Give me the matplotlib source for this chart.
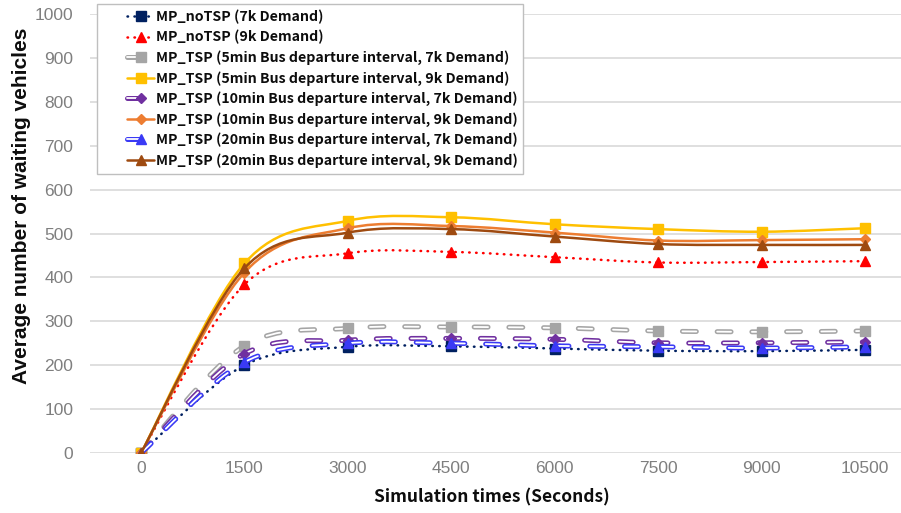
import matplotlib
matplotlib.use('Agg')
import matplotlib.pyplot as plt
import matplotlib.patheffects as pe
from matplotlib.path import Path
from matplotlib.patches import PathPatch
from matplotlib.lines import Line2D
from matplotlib.legend_handler import HandlerTuple
import numpy as np

plt.rcParams['lines.scale_dashes'] = False

times = [0, 1500, 3000, 4500, 6000, 7500, 9000, 10500]

notsp_7k = [0, 200, 242, 243, 238, 233, 232, 235]
notsp_9k = [0, 384, 455, 458, 446, 434, 435, 437]
tsp5_7k = [0, 244, 284, 287, 285, 278, 276, 278]
tsp5_9k = [0, 432, 529, 537, 521, 510, 504, 512]
tsp10_7k = [0, 226, 257, 261, 259, 251, 251, 253]
tsp10_9k = [0, 411, 512, 517, 502, 484, 485, 487]
tsp20_7k = [0, 207, 250, 250, 244, 242, 239, 242]
tsp20_9k = [0, 421, 502, 510, 493, 476, 474, 474]

series_names = [
    'MP_noTSP (7k Demand)',
    'MP_noTSP (9k Demand)',
    'MP_TSP (5min Bus departure interval, 7k Demand)',
    'MP_TSP (5min Bus departure interval, 9k Demand)',
    'MP_TSP (10min Bus departure interval, 7k Demand)',
    'MP_TSP (10min Bus departure interval, 9k Demand)',
    'MP_TSP (20min Bus departure interval, 7k Demand)',
    'MP_TSP (20min Bus departure interval, 9k Demand)',
]
series_vals = [notsp_7k, notsp_9k, tsp5_7k, tsp5_9k, tsp10_7k, tsp10_9k, tsp20_7k, tsp20_9k]

# (color, line kind, marker, marker size)
styles = [
    ('#002060', 'dot', 's', 6.5),
    ('#FF0000', 'dot', '^', 7.5),
    ('#A5A5A5', 'double', 's', 6.5),
    ('#FFC000', 'solid', 's', 7),
    ('#7030A0', 'double', 'D', 5.5),
    ('#ED7D31', 'solid', 'D', 5.5),
    ('#3A3AF5', 'double', '^', 7.5),
    ('#9E4A10', 'solid', '^', 7.5),
]


def smooth_path(x, y):
    # bezier through the points, excel-style smoothed line
    pts = np.column_stack([x, y]).astype(float)
    n = len(pts)
    verts = [pts[0]]
    codes = [Path.MOVETO]
    for i in range(n - 1):
        p0 = pts[max(i - 1, 0)]
        p1 = pts[i]
        p2 = pts[i + 1]
        p3 = pts[min(i + 2, n - 1)]
        verts += [p1 + (p2 - p0) / 6.0, p2 - (p3 - p1) / 6.0, p2]
        codes += [Path.CURVE4] * 3
    return Path(verts, codes)


def line_kw(color, kind):
    if kind == 'dot':
        return dict(color=color, lw=1.8, ls=(0, (0.4, 4.6)), capstyle='round')
    if kind == 'double':
        return dict(color='white', lw=1.3, ls=(0, (10, 15)), capstyle='round',
                    path_effects=[pe.Stroke(linewidth=3.6, foreground=color), pe.Normal()])
    return dict(color=color, lw=1.8, ls='-', capstyle='round')


class OffsetTuple(HandlerTuple):
    # leaves empty room on the left of each legend handle
    def __init__(self, offset, **kw):
        super().__init__(**kw)
        self.offset = offset

    def create_artists(self, legend, orig_handle, xdescent, ydescent, width, height, fontsize, trans):
        off = self.offset * fontsize
        return super().create_artists(legend, orig_handle, xdescent - off, ydescent,
                                      width - off, height, fontsize, trans)


fig = plt.figure(figsize=(9.01, 5.13), dpi=100)
ax = fig.add_axes([90 / 901, 60 / 513, 811 / 901, 439 / 513])

handles = []
for i, (vals, (color, kind, marker, ms)) in enumerate(zip(series_vals, styles)):
    kw = line_kw(color, kind)
    patch = PathPatch(smooth_path(times, vals), fill=False, edgecolor=kw['color'],
                      linewidth=kw['lw'], linestyle=kw['ls'], capstyle=kw['capstyle'],
                      joinstyle='round', zorder=3 + i * 0.1)
    if 'path_effects' in kw:
        patch.set_path_effects(kw['path_effects'])
    ax.add_patch(patch)
    ax.plot(times, vals, ls='none', marker=marker, ms=ms, color=color,
            zorder=3.05 + i * 0.1)

    hl = Line2D([], [], color=kw['color'], lw=kw['lw'], ls=kw['ls'],
                dash_capstyle='round', solid_capstyle='round')
    if 'path_effects' in kw:
        hl.set_path_effects(kw['path_effects'])
    hm = Line2D([], [], ls='none', marker=marker, ms=ms, color=color)
    handles.append((hl, hm))

ax.set_xlim(-740, 11022)
ax.set_ylim(0, 1000)
ax.set_xticks(times)
ax.set_xticklabels([str(t) for t in times])
ax.set_yticks(range(0, 1001, 100))
ax.tick_params(length=0, colors='#7F7F7F', labelsize=12.5)
ax.tick_params(axis='y', pad=12)
ax.tick_params(axis='x', pad=6)
for lab in ax.get_xticklabels() + ax.get_yticklabels():
    lab.set_fontfamily('Liberation Sans')
for s in ax.spines.values():
    s.set_visible(False)
ax.grid(axis='y', color='#D9D9D9', lw=1.2)
ax.set_axisbelow(True)

fig.text(492 / 901, 1 - 497 / 513, 'Simulation times (Seconds)', ha='center', va='center',
         family=['Noto Sans CJK SC', 'DejaVu Sans'], weight='bold', size=12.5, color='#0D0D0D')
fig.text(22 / 901, 1 - 206 / 513, 'Average number of waiting vehicles', ha='center', va='center',
         rotation=90, family='Liberation Sans', weight='bold', size=15, color='#0D0D0D')

leg = fig.legend(handles, series_names, loc='upper left', bbox_to_anchor=(97 / 901, 1 - 4 / 513),
                 borderaxespad=0, handler_map={tuple: OffsetTuple(1.75, ndivide=1)},
                 prop=dict(family=['Noto Sans CJK SC', 'DejaVu Sans'], weight='bold', size=10.2),
                 frameon=True, fancybox=False, edgecolor='#BFBFBF', framealpha=1,
                 handlelength=3.6, handletextpad=0.15, labelspacing=0.42, borderpad=0.4)
leg.get_frame().set_linewidth(1.0)
for t in leg.get_texts():
    t.set_color('#0D0D0D')

fig.savefig('out.png', dpi=100)
